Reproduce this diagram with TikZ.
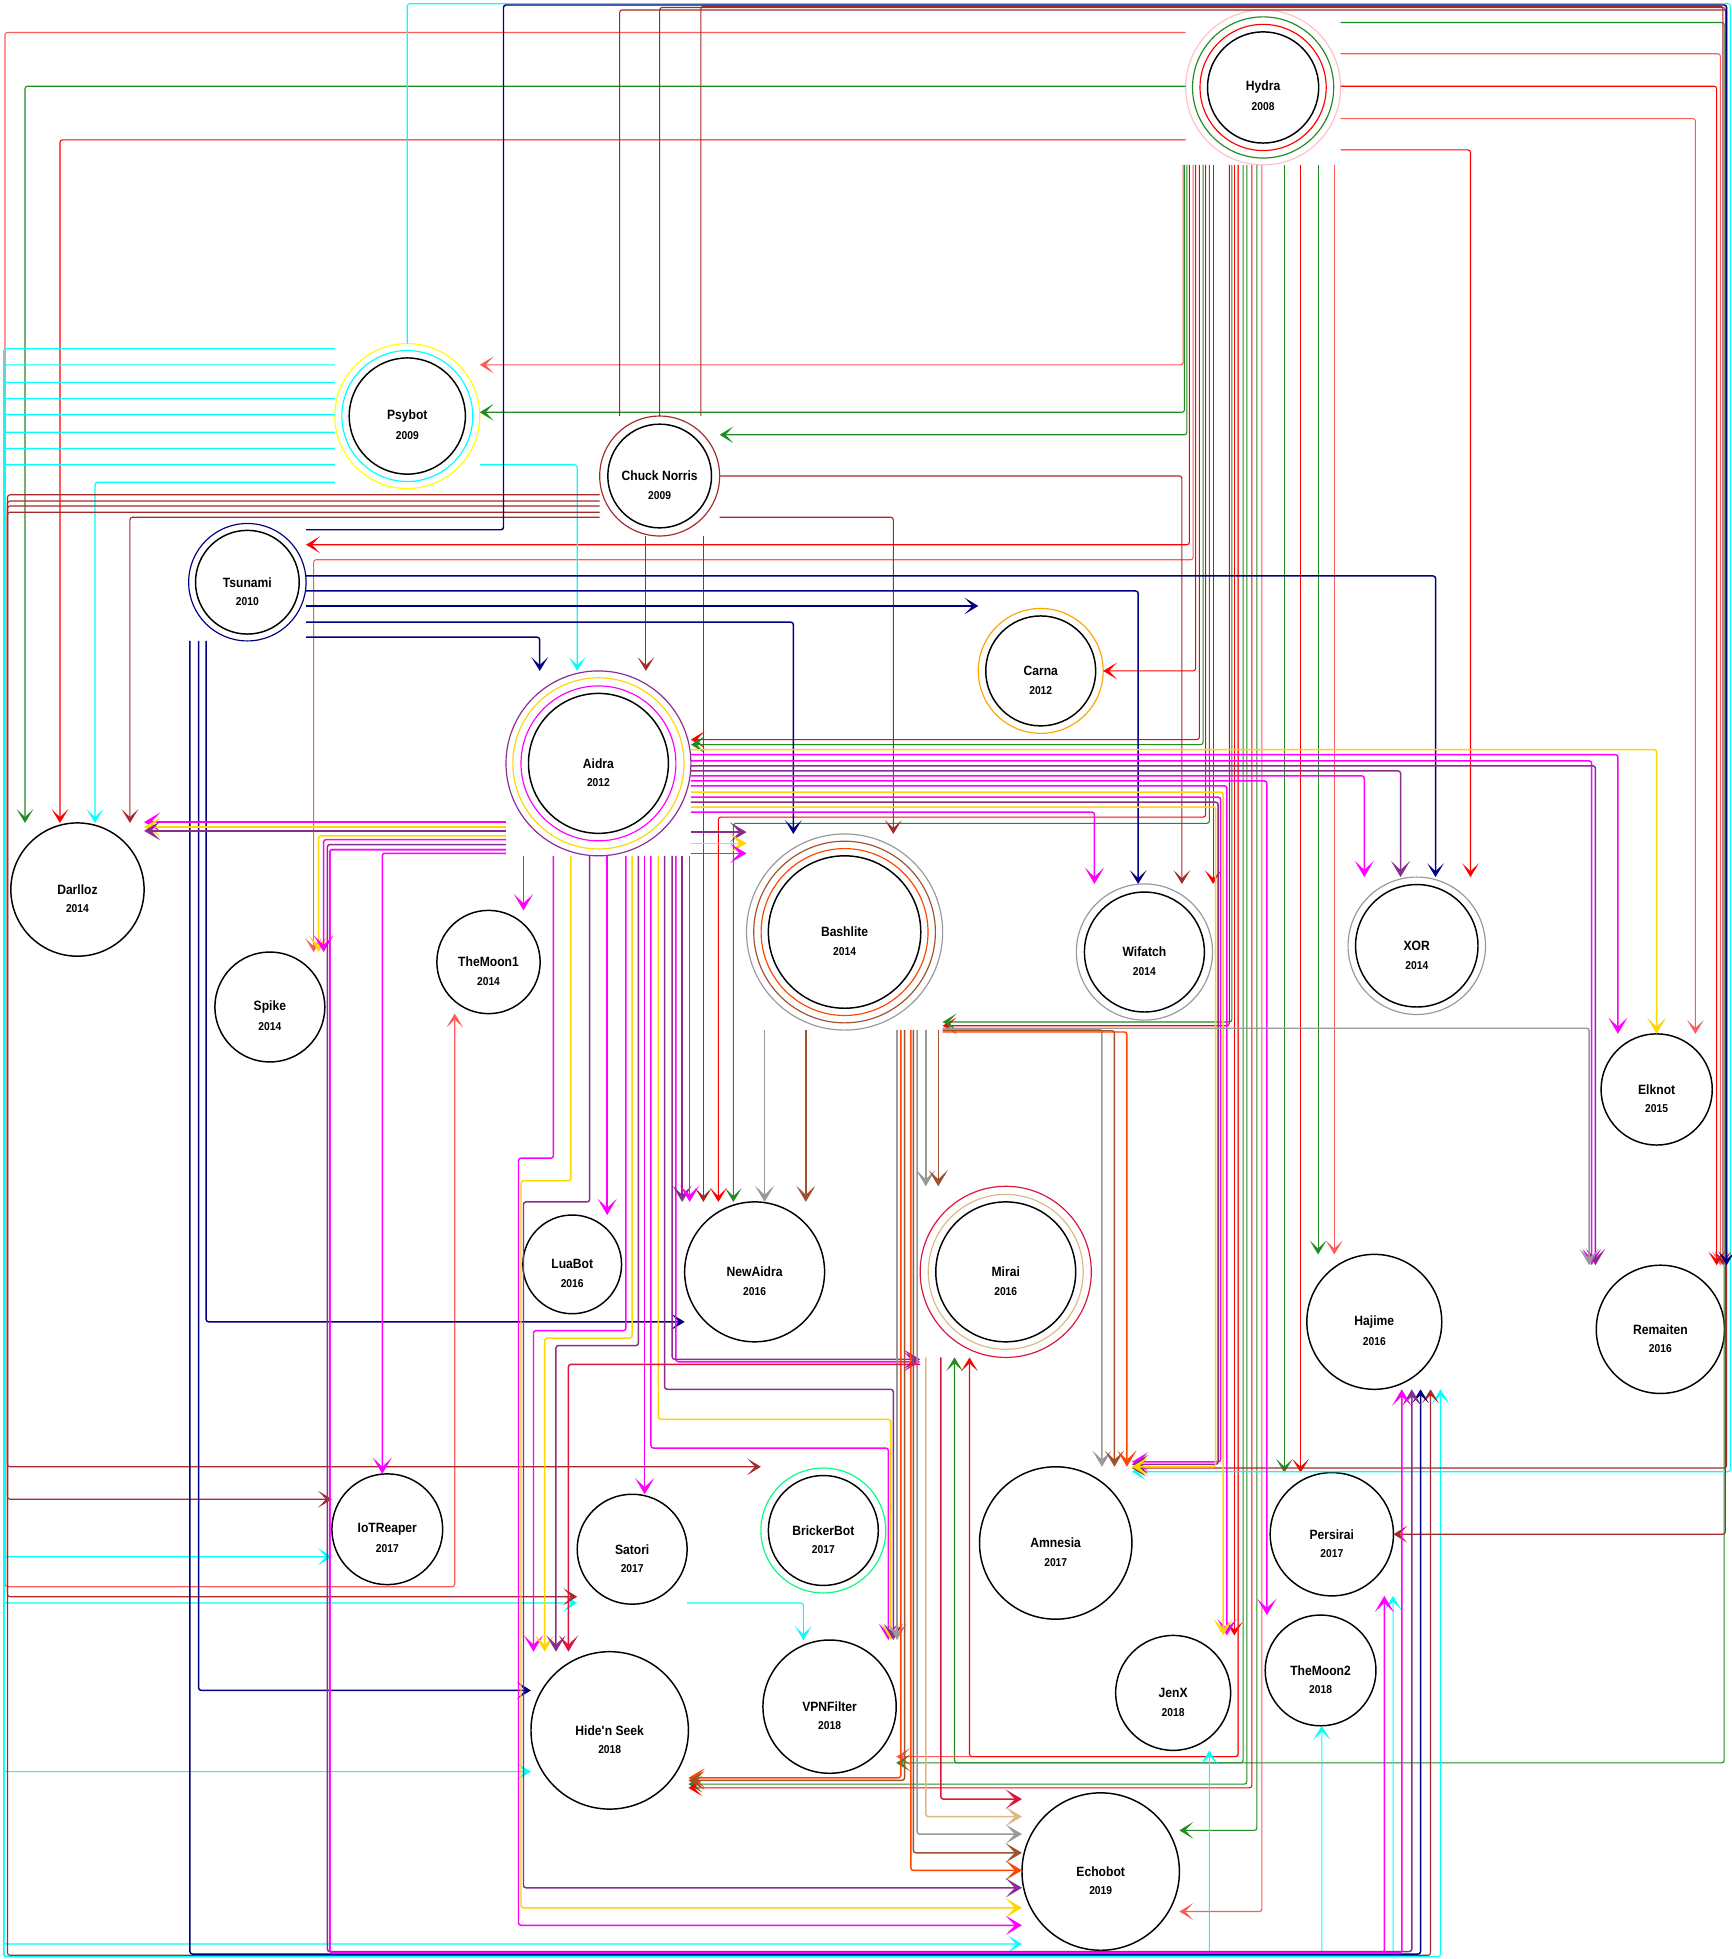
\documentclass[tikz,border=0pt]{standalone}
\usepackage{fontspec}
\setmainfont{Liberation Sans}[FakeStretch=0.9]
\usepackage{tikz}
\usetikzlibrary{arrows.meta}
\definecolor{hyR}{HTML}{FF0000}
\definecolor{hyL}{HTML}{FF5A5A}
\definecolor{hyG}{HTML}{228B22}
\definecolor{hyP}{HTML}{FFC0CB}
\definecolor{psC}{HTML}{00FFFF}
\definecolor{psY}{HTML}{FFFF00}
\definecolor{cnB}{HTML}{A52A2A}
\definecolor{tsN}{HTML}{000080}
\definecolor{caO}{HTML}{FFA500}
\definecolor{aiM}{HTML}{FF00FF}
\definecolor{aiG}{HTML}{FFD700}
\definecolor{aiP}{HTML}{8A2D8F}
\definecolor{baG}{HTML}{999999}
\definecolor{baS}{HTML}{A0522D}
\definecolor{baO}{HTML}{FF4500}
\definecolor{miC}{HTML}{DC143C}
\definecolor{miB}{HTML}{DEB887}
\definecolor{brS}{HTML}{00FF7F}
\tikzset{
  net-bot/.style={circle, draw=black, line width=1pt, inner sep=0pt, outer sep=0pt,
    font=\bfseries\fontsize{9.2}{10}\selectfont},
  net-year/.style={font=\bfseries\fontsize{7.8}{9}\selectfont, yshift=-4.65mm},
  net-ring/.style={line width=0.8pt},
  net-core/.style={draw=black, line width=1pt},
  net-link/.style={line width=0.75pt, rounded corners=0.6mm,
    -{Stealth[length=3.3mm, width=4mm, inset=1.9mm]}},
  net-heavy/.style={line width=1pt, rounded corners=0.6mm,
    -{Stealth[length=3.9mm, width=4.6mm, inset=2.2mm]}}
}

\begin{document}
\begin{tikzpicture}[x=0.3mm, y=-0.3mm]
  \useasboundingbox (0,0) rectangle (1386,1568);
  \fill[white] (0,0) rectangle (1386,1568);

  % Botnets, oldest at the top
  \node[net-bot, draw=hyP, line width=0.8pt, minimum size=37.2mm, label={[net-year]center:2008}] (hydra) at (1011,70) {Hydra};
  \draw[net-ring, hyG] (hydra) circle[radius=56.5];
  \draw[net-ring, hyR] (hydra) circle[radius=50.5];
  \draw[net-core] (hydra) circle[radius=44.5];

  \node[net-bot, draw=psY, line width=0.8pt, minimum size=34.8mm, label={[net-year]center:2009}] (psybot) at (326,333) {Psybot};
  \draw[net-ring, psC] (psybot) circle[radius=52.4];
  \draw[net-core] (psybot) circle[radius=46.5];

  \node[net-bot, draw=cnB, line width=0.8pt, minimum size=28.8mm, label={[net-year]center:2009}] (chuck) at (528,381) {Chuck Norris};
  \draw[net-core] (chuck) circle[radius=41.5];

  \node[net-bot, draw=tsN, line width=0.8pt, minimum size=28.2mm, label={[net-year]center:2010}] (tsunami) at (198,466) {Tsunami};
  \draw[net-core] (tsunami) circle[radius=41.5];

  \node[net-bot, draw=caO, line width=0.8pt, minimum size=30mm, label={[net-year]center:2012}] (carna) at (833,537) {Carna};
  \draw[net-core] (carna) circle[radius=44];

  \node[net-bot, draw=aiP, line width=0.8pt, minimum size=44.4mm, label={[net-year]center:2012}] (aidra) at (479,611) {Aidra};
  \draw[net-ring, aiG] (aidra) circle[radius=68.5];
  \draw[net-ring, aiM] (aidra) circle[radius=62];
  \draw[net-core] (aidra) circle[radius=56];

  \node[net-bot, minimum size=32mm, label={[net-year]center:2014}] (darlloz) at (62,712) {Darlloz};
  \node[net-bot, minimum size=26.4mm, label={[net-year]center:2014}] (spike) at (216,806) {Spike};
  \node[net-bot, minimum size=24.8mm, label={[net-year]center:2014}] (themoon1) at (391,770) {TheMoon1};

  \node[net-bot, draw=baG, line width=0.8pt, minimum size=47.1mm, label={[net-year]center:2014}] (bashlite) at (676,746) {Bashlite};
  \draw[net-ring, baS] (bashlite) circle[radius=72.7];
  \draw[net-ring, baO] (bashlite) circle[radius=66.8];
  \draw[net-core] (bashlite) circle[radius=61];

  \node[net-bot, draw=baG, line width=0.8pt, minimum size=32.7mm, label={[net-year]center:2014}] (wifatch) at (916,762) {Wifatch};
  \draw[net-core] (wifatch) circle[radius=48];

  \node[net-bot, draw=baG, line width=0.8pt, minimum size=33mm, label={[net-year]center:2014}] (xor) at (1134,757) {XOR};
  \draw[net-core] (xor) circle[radius=49];

  \node[net-bot, minimum size=26.7mm, label={[net-year]center:2015}] (elknot) at (1326,872) {Elknot};
  \node[net-bot, minimum size=23.7mm, label={[net-year]center:2016}] (luabot) at (458,1012) {LuaBot};
  \node[net-bot, minimum size=33.6mm, label={[net-year]center:2016}] (newaidra) at (604,1018) {NewAidra};

  \node[net-bot, draw=miC, line width=0.8pt, minimum size=41.1mm, label={[net-year]center:2016}] (mirai) at (805,1018) {Mirai};
  \draw[net-ring, miB] (mirai) circle[radius=62];
  \draw[net-core] (mirai) circle[radius=56];

  \node[net-bot, minimum size=32.4mm, label={[net-year]center:2016}] (hajime) at (1100,1058) {Hajime};
  \node[net-bot, minimum size=30.8mm, label={[net-year]center:2016}] (remaiten) at (1329,1064) {Remaiten};
  \node[net-bot, minimum size=26.6mm, label={[net-year]center:2017}] (iotreaper) at (310,1224) {IoTReaper};
  \node[net-bot, minimum size=26.4mm, label={[net-year]center:2017}] (satori) at (506,1240) {Satori};

  \node[net-bot, draw=brS, line width=0.8pt, minimum size=30mm, label={[net-year]center:2017}] (brickerbot) at (659,1225) {BrickerBot};
  \draw[net-core] (brickerbot) circle[radius=44];

  \node[net-bot, minimum size=36.6mm, label={[net-year]center:2017}] (amnesia) at (845,1235) {Amnesia};
  \node[net-bot, minimum size=29.6mm, label={[net-year]center:2017}] (persirai) at (1066,1228) {Persirai};
  \node[net-bot, minimum size=27.6mm, label={[net-year]center:2018}] (jenx) at (939,1355) {JenX};
  \node[net-bot, minimum size=26.6mm, label={[net-year]center:2018}] (themoon2) at (1057,1337) {TheMoon2};
  \node[net-bot, minimum size=37.8mm, label={[net-year]center:2018}] (hideseek) at (488,1385) {Hide\textquotesingle n Seek};
  \node[net-bot, minimum size=32mm, label={[net-year]center:2018}] (vpnfilter) at (664,1366) {VPNFilter};
  \node[net-bot, minimum size=37.8mm, label={[net-year]center:2019}] (echobot) at (881,1498) {Echobot};

  % Hydra
  \draw[net-link, hyL] (hydra.west |- 0,26) -| (4,1270) -| (themoon1.south -| 364,0);
  \draw[net-link, hyG] (hydra.west |- 0,69) -| (darlloz.north -| 20,0);
  \draw[net-link, hyR] (hydra.west |- 0,112) -| (darlloz.north -| 48,0);
  \draw[net-link, hyG] (hydra.east |- 0,18) -| (1380,1411) -| (mirai.south -| 764,0);
  \draw[net-link, hyL] (hydra.east |- 0,43) -| (remaiten.north -| 1377,0);
  \draw[net-link, hyR] (hydra.east |- 0,69) -| (remaiten.north -| 1374,0);
  \draw[net-link, hyL] (hydra.east |- 0,95) -| (elknot.north -| 1357,0);
  \draw[net-link, hyR] (hydra.east |- 0,120) -| (xor.north -| 1177,0);
  \draw[net-link, hyL] (hydra.south -| 947,0) |- (psybot.east |- 0,292);
  \draw[net-link, hyG] (hydra.south -| 948,0) |- (psybot.east |- 0,330);
  \draw[net-link, hyG] (hydra.south -| 950,0) |- (chuck.east |- 0,348);
  \draw[net-link, hyR] (hydra.south -| 952,0) |- (tsunami.east |- 0,436);
  \draw[net-link, hyL] (hydra.south -| 955,0) |- (251,448) -- (spike.north -| 251,0);
  \draw[net-link, hyR] (hydra.south -| 957,0) |- (carna.east |- 0,537);
  \draw[net-link, hyR] (hydra.south -| 960,0) |- (aidra.east |- 0,592);
  \draw[net-link, hyG] (hydra.south -| 963,0) |- (aidra.east |- 0,596);
  \draw[net-link, hyR] (hydra.south -| 965,0) |- (575,654) -- (newaidra.north -| 575,0);
  \draw[net-link, hyG] (hydra.south -| 968,0) |- (587,659) -- (newaidra.north -| 587,0);
  \draw[net-link, hyR] (hydra.south -| 971,0) -- (wifatch.north -| 971,0);
  \draw[net-link, hyR] (hydra.south -| 984,0) |- (bashlite.east |- 0,821);
  \draw[net-link, hyG] (hydra.south -| 986,0) |- (bashlite.east |- 0,818);
  \draw[net-link, hyR] (hydra.south -| 988,0) -- (jenx.north -| 988,0);
  \draw[net-link, hyL] (hydra.south -| 991,0) |- (vpnfilter.east |- 0,1406);
  \draw[net-link, hyR] (hydra.south -| 991,0) |- (776,1406) -- (mirai.south -| 776,0);
  \draw[net-link, hyG] (hydra.south -| 995,0) |- (vpnfilter.east |- 0,1411);
  \draw[net-link, hyG] (hydra.south -| 998,0) |- (hideseek.east |- 0,1428);
  \draw[net-link, hyR] (hydra.south -| 1002,0) |- (hideseek.east |- 0,1431);
  \draw[net-link, hyG] (hydra.south -| 1006,0) |- (echobot.east |- 0,1465);
  \draw[net-link, hyL] (hydra.south -| 1010,0) |- (echobot.east |- 0,1530);
  \draw[net-link, hyG] (hydra.south -| 1028,0) -- (persirai.north -| 1028,0);
  \draw[net-link, hyR] (hydra.south -| 1041,0) -- (persirai.north -| 1041,0);
  \draw[net-link, hyG] (hydra.south -| 1055,0) -- (hajime.north -| 1055,0);
  \draw[net-link, hyL] (hydra.south -| 1068,0) -- (hajime.north -| 1068,0);

  % Psybot
  \draw[net-link, psC] (psybot.north) |- (1385,3) |- (amnesia.east |- 0,1178);
  \draw[net-link, psC] (psybot.west |- 0,279) -| (3,1246) -- (iotreaper.west |- 0,1246);
  \draw[net-link, psC] (psybot.west |- 0,292) -| (3,1283) -- (satori.west |- 0,1283);
  \draw[net-link, psC] (psybot.west |- 0,306) -| (3,1418) -- (hideseek.west |- 0,1418);
  \draw[net-link, psC] (psybot.west |- 0,319) -| (3,1556) -- (echobot.west |- 0,1556);
  \draw[net-link, psC] (psybot.west |- 0,332) -| (3,1566) -| (hajime.south -| 1153,0);
  \draw[net-link, psC] (psybot.west |- 0,346) -| (3,1566) -| (persirai.south -| 1115,0);
  \draw[net-link, psC] (psybot.west |- 0,359) -| (3,1566) -| (themoon2.south -| 1058,0);
  \draw[net-link, psC] (psybot.west |- 0,372) -| (3,1566) -| (jenx.south -| 968,0);
  \draw[net-link, psC] (psybot.west |- 0,386) -| (darlloz.north -| 76,0);
  \draw[net-link, psC] (psybot.east |- 0,372) -| (aidra.north -| 462,0);
  \draw[net-link, psC] (satori.east |- 0,1283) -| (vpnfilter.north -| 643,0);

  % Chuck Norris
  \draw[net-link, cnB] (chuck.north -| 496,0) |- (1382,8) |- (amnesia.east |- 0,1175);
  \draw[net-link, cnB] (chuck.north) |- (1381,6) |- (persirai.east |- 0,1228);
  \draw[net-link, cnB] (chuck.north -| 561,0) |- (1379,5) -- (remaiten.north -| 1379,0);
  \draw[net-link, cnB] (chuck.west |- 0,396) -| (6,1174) -- (brickerbot.west |- 0,1174);
  \draw[net-link, cnB] (chuck.west |- 0,401) -| (6,1200) -- (iotreaper.west |- 0,1200);
  \draw[net-link, cnB] (chuck.west |- 0,405) -| (6,1278) -- (satori.west |- 0,1278);
  \draw[net-link, cnB] (chuck.west |- 0,410) -| (6,1565) -| (hajime.south -| 1145,0);
  \draw[net-link, cnB] (chuck.west |- 0,414) -| (darlloz.north -| 104,0);
  \draw[net-link, cnB] (chuck.east) -| (wifatch.north -| 946,0);
  \draw[net-link, cnB] (chuck.east |- 0,414) -| (bashlite.north -| 715,0);
  \draw[net-link, cnB] (chuck.south -| 517,0) -- (aidra.north -| 517,0);
  \draw[net-link, cnB] (chuck.south -| 563,0) -- (newaidra.north -| 563,0);

  % Tsunami
  \draw[net-link, tsN, line width=1pt] (tsunami.east |- 0,424) -| (403,4) -| (remaiten.north -| 1382,0);
  \draw[net-link, tsN, line width=1pt] (tsunami.east |- 0,461) -| (xor.north -| 1149,0);
  \draw[net-link, tsN, line width=1pt] (tsunami.east |- 0,473) -| (wifatch.north -| 911,0);
  \draw[net-link, tsN, line width=1pt] (tsunami.east |- 0,485) -- (carna.west |- 0,485);
  \draw[net-link, tsN, line width=1pt] (tsunami.east |- 0,498) -| (bashlite.north -| 635,0);
  \draw[net-link, tsN, line width=1pt] (tsunami.east |- 0,510) -| (aidra.north -| 432,0);
  \draw[net-link, tsN, line width=1pt] (tsunami.south -| 165,0) |- (newaidra.west |- 0,1058);
  \draw[net-link, tsN, line width=1pt] (tsunami.south -| 159,0) |- (hideseek.west |- 0,1353);
  \draw[net-link, tsN, line width=1pt] (tsunami.south -| 152,0) |- (1137,1564) -- (hajime.south -| 1137,0);

  % Aidra, left side
  \draw[net-heavy, aiM] (aidra.west |- 0,658) -- (darlloz.east |- 0,658);
  \draw[net-heavy, aiG] (aidra.west |- 0,662) -- (darlloz.east |- 0,662);
  \draw[net-heavy, aiP] (aidra.west |- 0,665) -- (darlloz.east |- 0,665);
  \draw[net-heavy, aiG] (aidra.west |- 0,669) -| (spike.north -| 255,0);
  \draw[net-heavy, aiM] (aidra.west |- 0,672) -| (spike.north -| 259,0);
  \draw[net-heavy, aiP] (aidra.west |- 0,676) -| (262,1562) -| (hajime.south -| 1130,0);
  \draw[net-heavy, aiM] (aidra.west |- 0,680) -| (264,1563) -| (hajime.south -| 1122,0);
  \draw[net-heavy, aiM] (aidra.west |- 0,680) -| (264,1563) -| (persirai.south -| 1108,0);
  \draw[net-heavy, aiM] (aidra.west |- 0,683) -| (iotreaper.north -| 306,0);

  % Aidra, right side
  \draw[net-heavy, aiG] (aidra.east |- 0,600) -| (elknot.north -| 1326,0);
  \draw[net-heavy, aiM] (aidra.east |- 0,604) -| (elknot.north -| 1295,0);
  \draw[net-heavy, aiM] (aidra.east |- 0,609) -| (remaiten.north -| 1274,0);
  \draw[net-heavy, aiP] (aidra.east |- 0,613) -| (remaiten.north -| 1277,0);
  \draw[net-heavy, aiP] (aidra.east |- 0,617) -| (xor.north -| 1121,0);
  \draw[net-heavy, aiM] (aidra.east |- 0,621) -| (xor.north -| 1092,0);
  \draw[net-heavy, aiM] (aidra.east |- 0,625) -| (themoon2.north -| 1014,0);
  \draw[net-heavy, aiM] (aidra.east |- 0,629) -| (jenx.north -| 982,0);
  \draw[net-heavy, aiG] (aidra.east |- 0,634) -| (jenx.north -| 979,0);
  \draw[net-heavy, aiM] (aidra.east |- 0,638) -| (977,1170) -- (amnesia.east |- 0,1170);
  \draw[net-heavy, aiP] (aidra.east |- 0,642) -| (975,1172) -- (amnesia.east |- 0,1172);
  \draw[net-heavy, aiG] (aidra.east |- 0,646) -| (973,1174) -- (amnesia.east |- 0,1174);
  \draw[net-heavy, aiM] (aidra.east |- 0,650) -| (wifatch.north -| 876,0);
  \draw[net-heavy, aiP] (aidra.east |- 0,666) -- (bashlite.west |- 0,666);
  \draw[net-heavy, aiG] (aidra.east |- 0,675) -- (bashlite.west |- 0,675);
  \draw[net-heavy, aiM] (aidra.east |- 0,683) -- (bashlite.west |- 0,683);

  % Aidra, bottom
  \draw[net-heavy, aiM] (aidra.south -| 419,0) -- (themoon1.north -| 419,0);
  \draw[net-heavy, aiM] (aidra.south -| 443,0) |- (415,927) |- (echobot.west |- 0,1541);
  \draw[net-heavy, aiG] (aidra.south -| 457,0) |- (417,945) |- (echobot.west |- 0,1527);
  \draw[net-heavy, aiP] (aidra.south -| 472,0) |- (419,962) |- (echobot.west |- 0,1511);
  \draw[net-heavy, aiM] (aidra.south -| 486,0) -- (luabot.north -| 486,0);
  \draw[net-heavy, aiM] (aidra.south -| 501,0) |- (427,1065) -- (hideseek.north -| 427,0);
  \draw[net-heavy, aiG] (aidra.south -| 506,0) |- (436,1071) -- (hideseek.north -| 436,0);
  \draw[net-heavy, aiP] (aidra.south -| 511,0) |- (445,1077) -- (hideseek.north -| 445,0);
  \draw[net-heavy, aiM] (aidra.south -| 516,0) -- (satori.north -| 516,0);
  \draw[net-heavy, aiM] (aidra.south -| 521,0) |- (711,1159) -- (vpnfilter.north -| 711,0);
  \draw[net-heavy, aiG] (aidra.south -| 527,0) |- (713,1136) -- (vpnfilter.north -| 713,0);
  \draw[net-heavy, aiP] (aidra.south -| 532,0) |- (715,1112) -- (vpnfilter.north -| 715,0);
  \draw[net-heavy, aiM] (aidra.south -| 541,0) |- (mirai.west |- 0,1090);
  \draw[net-heavy, aiP] (aidra.south -| 538,0) |- (mirai.west |- 0,1088);
  \draw[net-heavy, aiP] (aidra.south -| 546,0) -- (newaidra.north -| 546,0);
  \draw[net-heavy, aiM] (aidra.south -| 552,0) -- (newaidra.north -| 552,0);

  % Bashlite
  \draw[net-heavy, baG] (bashlite.south -| 612,0) -- (newaidra.north -| 612,0);
  \draw[net-heavy, baS] (bashlite.south -| 645,0) -- (newaidra.north -| 645,0);
  \draw[net-heavy, baG] (bashlite.south -| 741,0) -- (mirai.north -| 741,0);
  \draw[net-heavy, baS] (bashlite.south -| 751,0) -- (mirai.north -| 751,0);
  \draw[net-heavy, baG] (bashlite.south -| 718,0) -- (vpnfilter.north -| 718,0);
  \draw[net-heavy, baO] (bashlite.south -| 721,0) |- (hideseek.east |- 0,1423);
  \draw[net-heavy, baS] (bashlite.south -| 724,0) |- (hideseek.east |- 0,1425);
  \draw[net-heavy, baO] (bashlite.south -| 729,0) |- (echobot.west |- 0,1497);
  \draw[net-heavy, baS] (bashlite.south -| 731,0) |- (echobot.west |- 0,1483);
  \draw[net-heavy, baG] (bashlite.south -| 734,0) |- (echobot.west |- 0,1468);
  \draw[net-heavy, baG] (bashlite.east |- 0,823) -| (remaiten.north -| 1272,0);
  \draw[net-heavy, baG] (bashlite.east |- 0,824) -| (amnesia.north -| 882,0);
  \draw[net-heavy, baS] (bashlite.east |- 0,825) -| (amnesia.north -| 892,0);
  \draw[net-heavy, baO] (bashlite.east |- 0,826) -| (amnesia.north -| 902,0);

  % Mirai
  \draw[net-heavy, miC] (mirai.west |- 0,1092) -| (hideseek.north -| 455,0);
  \draw[net-heavy, miC] (mirai.south -| 753,0) |- (echobot.west |- 0,1440);
  \draw[net-heavy, miB] (mirai.south -| 741,0) |- (echobot.west |- 0,1454);
\end{tikzpicture}
\end{document}
